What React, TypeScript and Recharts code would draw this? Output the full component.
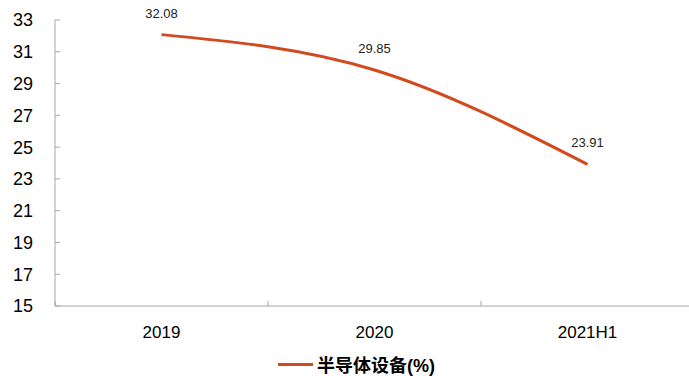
import React from 'react';
import { LineChart, Line, XAxis, YAxis, LabelList, Legend } from 'recharts';

const categories = ['2019', '2020', '2021H1'];
const equipmentPct = [32.08, 29.85, 23.91];
const yTicks = [15, 17, 19, 21, 23, 25, 27, 29, 31, 33];
const seriesName = '半导体设备(%)';

const data = categories.map((c, i) => ({ cat: c, v: equipmentPct[i] }));

const LINE_COLOR = '#D24B1F';
const AXIS_COLOR = '#A6A6A6';
const FONT = '"Liberation Sans", Arial, "Noto Sans CJK SC", sans-serif';

const renderLegend = () => (
  <div style={{ display: 'flex', alignItems: 'center', height: 24, paddingLeft: 278 }}>
    <div style={{ width: 35, height: 3, background: LINE_COLOR, marginRight: 4 }} />
    <span style={{ fontFamily: FONT, fontWeight: 'bold', fontSize: 18, color: '#000' }}>{seriesName}</span>
  </div>
);

const CatTick = (props: any) => {
  const { x, y, payload, index, visibleTicksCount } = props;
  const half = payload && typeof payload.offset === 'number' && payload.offset > 0 ? payload.offset : 106.3;
  const last = index === (visibleTicksCount ?? categories.length) - 1;
  return (
    <g>
      <line x1={x - half} x2={x - half} y1={y} y2={y - 5} stroke={AXIS_COLOR} strokeWidth={1} />
      {last && <line x1={x + half} x2={x + half} y1={y} y2={y - 5} stroke={AXIS_COLOR} strokeWidth={1} />}
      <text x={x} y={y + 32} textAnchor="middle" fill="#000" fontSize={17} fontFamily={FONT}>
        {payload.value}
      </text>
    </g>
  );
};

export default function App() {
  return (
    <div style={{ position: 'fixed', left: 0, top: 0, width: 689, height: 376, overflow: 'hidden', background: '#fff' }}>
      <LineChart
        width={694}
        height={376}
        data={data}
        margin={{ top: 20, right: 0, bottom: 16, left: 0 }}
        style={{ fontFamily: FONT }}
      >
        <XAxis
          dataKey="cat"
          scale="band"
          axisLine={{ stroke: AXIS_COLOR }}
          tickLine={false}
          tickSize={0}
          tickMargin={0}
          height={30}
          interval={0}
          tick={<CatTick />}
        />
        <YAxis
          domain={[15, 33]}
          ticks={yTicks}
          interval={0}
          width={55}
          tickSize={-5}
          tickMargin={27}
          axisLine={{ stroke: AXIS_COLOR }}
          tickLine={{ stroke: AXIS_COLOR }}
          tick={{ fill: '#000', fontSize: 18, fontFamily: FONT }}
        />
        <Legend
          content={renderLegend}
          verticalAlign="bottom"
          wrapperStyle={{ top: 352, bottom: 'auto', left: 0, height: 24 }}
        />
        <Line
          type="monotone"
          dataKey="v"
          name={seriesName}
          stroke={LINE_COLOR}
          strokeWidth={3}
          dot={false}
          isAnimationActive={false}
        >
          <LabelList dataKey="v" position="top" offset={17} fill="#222" fontSize={13} fontFamily={FONT} />
        </Line>
      </LineChart>
    </div>
  );
}
